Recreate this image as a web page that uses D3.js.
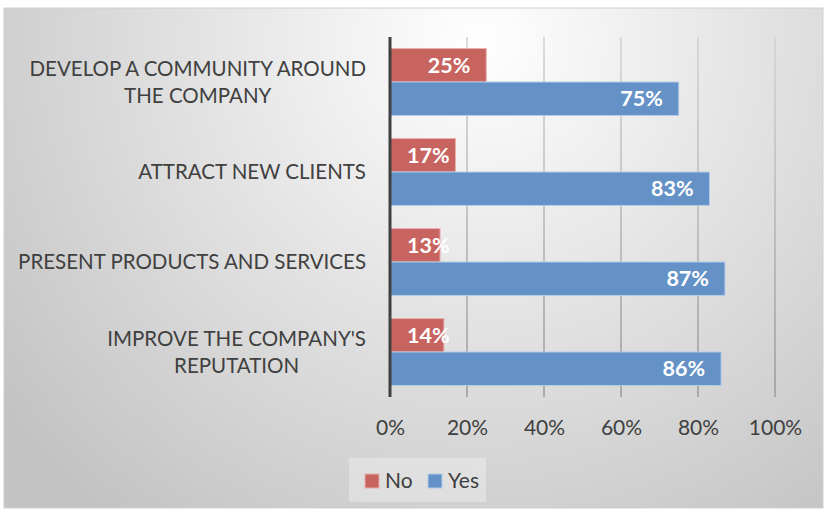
<!DOCTYPE html>
<html>
<head>
<meta charset="utf-8">
<script src="https://cdn.jsdelivr.net/npm/d3@7"></script>
<style>
  body { margin: 0; background: #fff; }
  svg { display: block; font-family: Lato, "Open Sans", sans-serif; }
</style>
</head>
<body>
<svg id="chart" width="827" height="514"></svg>
<script>
// data, top to bottom
const categories = [
  ["DEVELOP A COMMUNITY AROUND", "THE COMPANY"],
  ["ATTRACT NEW CLIENTS"],
  ["PRESENT PRODUCTS AND SERVICES"],
  ["IMPROVE THE COMPANY'S", "REPUTATION"]
];
const seriesNames = ["No", "Yes"];
const noValues = [25, 17, 13, 14];
const yesValues = [75, 83, 87, 86];
const xTicks = [0, 20, 40, 60, 80, 100];

const colors = { No: "#c8645f", Yes: "#6592c6" };
const strokes = { No: "#e8b0ae", Yes: "#b3cbe8" };

const svg = d3.select("#chart");

// background gradient
const defs = svg.append("defs");
const bg = defs.append("radialGradient").attr("id", "bg")
  .attr("gradientUnits", "userSpaceOnUse")
  .attr("cx", 480).attr("cy", 40).attr("r", 600);
bg.append("stop").attr("offset", 0).attr("stop-color", "#ffffff");
bg.append("stop").attr("offset", 1).attr("stop-color", "#c3c3c3");

const plotTop = 37, plotBottom = 397;

const gridGrad = defs.append("linearGradient").attr("id", "grid")
  .attr("gradientUnits", "userSpaceOnUse")
  .attr("x1", 0).attr("x2", 0).attr("y1", plotTop).attr("y2", plotBottom);
gridGrad.append("stop").attr("offset", 0).attr("stop-color", "#d2d2d2");
gridGrad.append("stop").attr("offset", 1).attr("stop-color", "#999999");

svg.append("rect")
  .attr("x", 4).attr("y", 8).attr("width", 819).attr("height", 500)
  .attr("fill", "url(#bg)")
  .attr("stroke", "#d0d0d0").attr("stroke-width", 1);

const x = d3.scaleLinear().domain([0, 100]).range([390, 775]);
const y = d3.scaleBand().domain(d3.range(categories.length))
  .range([plotTop, plotBottom]).paddingInner(0.256).paddingOuter(0.128);
const ySub = d3.scaleBand().domain(seriesNames).range([0, y.bandwidth()]);

// gridlines
svg.append("g").selectAll("line")
  .data(xTicks.slice(1))
  .join("line")
  .attr("x1", d => x(d)).attr("x2", d => x(d))
  .attr("y1", plotTop).attr("y2", plotBottom)
  .attr("stroke", "url(#grid)").attr("stroke-width", 1.5);

// tick labels
const xAxis = d3.axisBottom(x).tickValues(xTicks).tickFormat(d => d + "%").tickSize(0).tickPadding(0);
const gx = svg.append("g").attr("transform", `translate(0,${plotBottom})`).call(xAxis);
gx.select(".domain").remove();
gx.selectAll("text")
  .attr("y", 38).attr("dy", null)
  .attr("font-family", "Lato, sans-serif")
  .attr("font-size", 21).attr("fill", "#404040");

// bars
const rows = categories.map((c, i) => [
  { cat: i, key: "No", v: noValues[i] },
  { cat: i, key: "Yes", v: yesValues[i] }
]).flat();

const bars = svg.append("g");
bars.selectAll("rect")
  .data(rows)
  .join("rect")
  .attr("x", x(0))
  .attr("y", d => y(d.cat) + ySub(d.key))
  .attr("width", d => x(d.v) - x(0))
  .attr("height", ySub.bandwidth())
  .attr("fill", d => colors[d.key])
  .attr("stroke", d => strokes[d.key]).attr("stroke-width", 1);

// value labels (inside end)
bars.selectAll("text")
  .data(rows)
  .join("text")
  .attr("y", d => y(d.cat) + ySub(d.key) + ySub.bandwidth() / 2 + 7.5)
  .attr("font-size", 21.5).attr("font-weight", "bold").attr("fill", "#fff")
  .text(d => d.v + "%")
  .each(function(d) {
    const w = this.getComputedTextLength();
    d3.select(this).attr("x", Math.max(x(d.v) - 16 - w, x(0) + 17));
  });

// axis line
svg.append("line")
  .attr("x1", x(0)).attr("x2", x(0)).attr("y1", plotTop).attr("y2", plotBottom)
  .attr("stroke", "#404040").attr("stroke-width", 3);

// category labels
const catG = svg.append("g");
categories.forEach((lines, i) => {
  const cy = y(i) + y.bandwidth() / 2;
  const t = catG.append("text")
    .attr("font-size", 20.5).attr("fill", "#404040");
  lines.forEach((ln, j) => {
    t.append("tspan").text(ln)
      .attr("y", cy + 7 + (j - (lines.length - 1) / 2) * 27);
  });
  // right-align the block, center the lines within it
  const spans = t.selectAll("tspan").nodes();
  const widest = d3.max(spans, s => s.getComputedTextLength());
  const right = 366;
  spans.forEach(s => {
    d3.select(s).attr("x", right - widest / 2).attr("text-anchor", "middle");
  });
});

// legend
const lg = svg.append("g");
lg.append("rect").attr("x", 349).attr("y", 458).attr("width", 137).attr("height", 44)
  .attr("fill", "#ffffff").attr("fill-opacity", 0.3);
const legendX = { No: 365, Yes: 428 };
seriesNames.forEach(k => {
  lg.append("rect").attr("x", legendX[k]).attr("y", 474).attr("width", 14).attr("height", 14)
    .attr("fill", colors[k]).attr("stroke", strokes[k]);
  lg.append("text").attr("x", legendX[k] + 20).attr("y", 488)
    .attr("font-size", 21).attr("fill", "#404040").text(k);
});
</script>
</body>
</html>
